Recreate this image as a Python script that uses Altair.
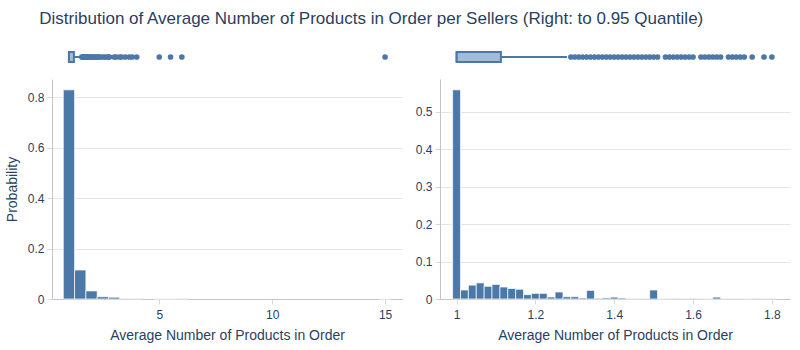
import altair as alt
import pandas as pd

BLUE = "#4c78a8"
TXT = "#2a3f5f"
FONT = "Liberation Sans"

# ---- left panel: full data, histogram bins of width 0.5 ----
left_bin_start = [0.75, 1.25, 1.75, 2.25, 2.75, 3.25, 3.75, 4.75, 5.25, 5.75, 14.75]
left_prob = [0.830, 0.115, 0.032, 0.009, 0.007, 0.002, 0.0015, 0.0005, 0.0005, 0.0012, 0.0004]
left_bin_width = 0.5

# box-plot summary (full data)
left_box = {"q1": 1.0, "median": 1.0, "q3": 1.22, "lower": 1.0, "upper": 1.55}
left_outliers = [1.57, 1.6, 1.62, 1.64, 1.67, 1.7, 1.71, 1.73, 1.75, 1.78, 1.8, 1.83,
                 1.86, 1.9, 1.92, 2.0, 2.05, 2.1, 2.14, 2.2, 2.25, 2.29, 2.33, 2.4,
                 2.5, 2.6, 2.67, 2.75, 2.8, 3.0, 3.1, 3.25, 3.33, 3.5, 3.67, 3.8,
                 4.0, 5.0, 5.5, 6.0, 15.0]

# ---- right panel: data up to the 0.95 quantile, bins of width 0.02 ----
right_bin_center = [1.00, 1.02, 1.04, 1.06, 1.08, 1.10, 1.12, 1.14, 1.16, 1.18,
                    1.20, 1.22, 1.24, 1.26, 1.28, 1.30, 1.32, 1.34, 1.36, 1.38,
                    1.40, 1.42, 1.44, 1.46, 1.48, 1.50, 1.52, 1.54, 1.56, 1.58,
                    1.60, 1.62, 1.64, 1.66, 1.68, 1.70, 1.72, 1.74, 1.76, 1.78, 1.80]
right_prob = [0.558, 0.024, 0.037, 0.043, 0.034, 0.039, 0.032, 0.028, 0.026, 0.0116,
              0.015, 0.015, 0.0053, 0.0187, 0.006, 0.006, 0.0027, 0.023, 0.002, 0.003,
              0.005, 0.0027, 0.001, 0.0008, 0.001, 0.024, 0.0005, 0.001, 0.0015, 0.001,
              0.0015, 0.001, 0.0005, 0.005, 0.001, 0.001, 0.001, 0.0005, 0.0015, 0.001, 0.001]
right_bin_width = 0.02

right_box = {"q1": 1.0, "median": 1.0, "q3": 1.1125, "lower": 1.0, "upper": 1.28}
right_outliers = [1.29, 1.3, 1.31, 1.32, 1.33, 1.34, 1.35, 1.36, 1.37, 1.38, 1.39,
                  1.4, 1.41, 1.42, 1.43, 1.44, 1.45, 1.46, 1.47, 1.48, 1.49, 1.5, 1.51,
                  1.53, 1.54, 1.55, 1.56, 1.57, 1.58, 1.59, 1.6, 1.62, 1.63, 1.64,
                  1.65, 1.66, 1.67, 1.69, 1.7, 1.71, 1.72, 1.73, 1.75, 1.78, 1.8]

left_x_ticks = [5, 10, 15]
left_y_ticks = [0, 0.2, 0.4, 0.6, 0.8]
right_x_ticks = [1, 1.2, 1.4, 1.6, 1.8]
right_y_ticks = [0, 0.1, 0.2, 0.3, 0.4, 0.5]

X_TITLE = "Average Number of Products in Order"
W, H_HIST, H_BOX = 350, 220, 26


def panel(bin_lo, bin_hi, probs, box, outliers, xdom, ydom, xticks, yticks, ytitle):
    hist_df = pd.DataFrame({"lo": bin_lo, "hi": bin_hi, "p": probs})
    box_df = pd.DataFrame([box])
    out_df = pd.DataFrame({"v": outliers})
    xs = alt.Scale(domain=xdom, nice=False, zero=False)

    ys = alt.Scale(domain=[-1, 1])
    whisk = alt.Chart(box_df).mark_rule(color=BLUE, strokeWidth=2).encode(
        x=alt.X("q3:Q", scale=xs, axis=None), x2="upper:Q",
        y=alt.Y(datum=0, scale=ys, axis=None))
    rect = alt.Chart(box_df).mark_bar(
        size=10, orient="horizontal", fill="rgba(76,120,168,0.5)",
        stroke=BLUE, strokeWidth=2).encode(
        x=alt.X("q1:Q", scale=xs, axis=None), x2="q3:Q",
        y=alt.Y(datum=0, scale=ys, axis=None))
    med = alt.Chart(box_df).mark_tick(color=BLUE, thickness=2, size=10, orient="vertical").encode(
        x=alt.X("median:Q", scale=xs, axis=None),
        y=alt.Y(datum=0, scale=ys, axis=None))
    pts = alt.Chart(out_df).mark_circle(color=BLUE, size=32, opacity=1).encode(
        x=alt.X("v:Q", scale=xs, axis=None),
        y=alt.Y(datum=0, scale=ys, axis=None))
    box_chart = alt.layer(whisk, rect, med, pts).properties(width=W, height=H_BOX)

    hist = alt.Chart(hist_df).mark_bar(color=BLUE, stroke="white", strokeWidth=0.7).encode(
        x=alt.X("lo:Q", scale=xs, title=X_TITLE,
                axis=alt.Axis(values=xticks, format="~g", grid=False, ticks=True,
                              tickSize=5, labelPadding=5, titlePadding=8)),
        x2="hi:Q",
        y=alt.Y("p:Q", scale=alt.Scale(domain=ydom, nice=False),
                title=ytitle,
                axis=alt.Axis(values=yticks, format="~g", grid=True, tickSize=5,
                              labelPadding=3, titlePadding=8)),
        y2=alt.Y2(datum=0),
    ).properties(width=W, height=H_HIST)
    return alt.vconcat(box_chart, hist, spacing=9)


left = panel(left_bin_start, [b + left_bin_width for b in left_bin_start], left_prob,
             left_box, left_outliers, [0.25, 15.75], [0, 0.873],
             left_x_ticks, left_y_ticks, "Probability")
right = panel([c - right_bin_width / 2 for c in right_bin_center],
              [c + right_bin_width / 2 for c in right_bin_center], right_prob,
              right_box, right_outliers, [0.958, 1.846], [0, 0.587],
              right_x_ticks, right_y_ticks, "")

chart = alt.hconcat(left, right, spacing=13).properties(
    title=alt.TitleParams(
        "Distribution of Average Number of Products in Order per Sellers (Right: to 0.95 Quantile)",
        anchor="start", fontSize=17, font=FONT, fontWeight="normal", color=TXT,
        offset=16, dx=34),
    padding={"left": 5, "top": 10, "right": 10, "bottom": 5},
    background="white",
).configure_view(strokeWidth=0).configure_axis(
    labelFont=FONT, titleFont=FONT, labelFontSize=12, titleFontSize=14,
    titleFontWeight="normal", labelColor=TXT, titleColor=TXT,
    domainColor="#c4c4c4", tickColor="#d8d8d8", gridColor="#e6e6e6",
)

chart.save("out.html", embed_options={"renderer": "svg", "actions": False})
